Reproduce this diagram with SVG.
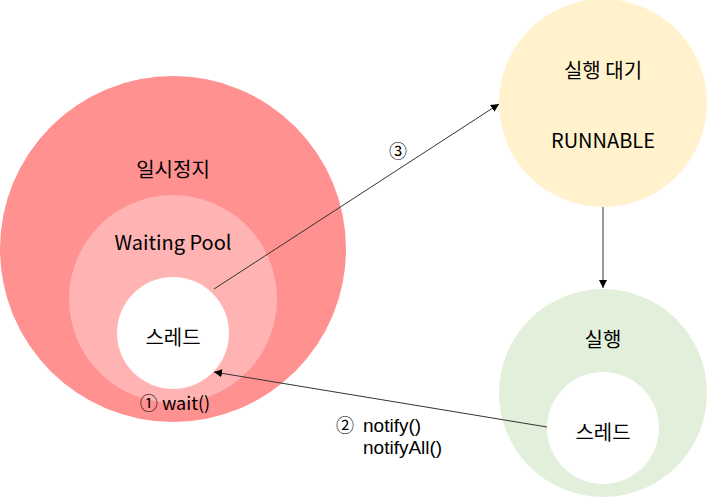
<svg xmlns="http://www.w3.org/2000/svg" width="707" height="497" viewBox="0 0 707 497">
<style>
text{font-family:"Noto Sans CJK KR","Noto Sans",sans-serif;fill:#000}
.l{font-size:20px;text-anchor:middle}
.s{font-size:18px}
.n{font-family:"Liberation Sans",Arial,sans-serif;font-size:19px}
.c{stroke:#333;stroke-width:1;fill:none}
</style>
<defs>
<marker id="ah" viewBox="0 0 10 10" refX="10" refY="5" markerWidth="8" markerHeight="8" orient="auto" markerUnits="userSpaceOnUse"><path d="M0,0 L10,5 L0,10 z" fill="#000"/></marker>
</defs>
<rect width="707" height="497" fill="#fff"/>
<g id="paused">
<circle cx="173" cy="249" r="173" fill="#FF9191"/>
<text class="l" x="173" y="177">일시정지</text>
</g>
<g id="waitingPool">
<circle cx="173" cy="299" r="104" fill="#FFB3B3"/>
<text class="l" x="173" y="250">Waiting Pool</text>
</g>
<g id="thread1">
<circle cx="173" cy="333" r="56" fill="#fff"/>
<text class="l" x="173" y="345">스레드</text>
<text class="s" x="175" y="410" text-anchor="middle">① wait()</text>
</g>
<g id="runnable">
<circle cx="603" cy="103" r="104" fill="#FFF2CC"/>
<text class="l" x="603" y="78">실행 대기</text>
<text class="l" x="603" y="148">RUNNABLE</text>
</g>
<g id="running">
<circle cx="603" cy="393" r="104" fill="#E2EFDA"/>
<text class="l" x="603" y="347">실행</text>
</g>
<g id="thread2">
<circle cx="603" cy="428" r="56" fill="#fff"/>
<text class="l" x="603" y="440">스레드</text>
</g>
<g id="connectors">
<line class="c" x1="214" y1="289" x2="499" y2="104" marker-end="url(#ah)"/>
<line class="c" x1="603" y1="207" x2="603" y2="288" marker-end="url(#ah)"/>
<line class="c" x1="547" y1="427" x2="214" y2="372" marker-end="url(#ah)"/>
<text class="s" x="398" y="158" text-anchor="middle">③</text>
<text class="s" x="345" y="432" text-anchor="middle">②</text>
<text class="n" x="363" y="432">notify()</text>
<text class="n" x="363" y="453.5">notifyAll()</text>
</g>
</svg>
